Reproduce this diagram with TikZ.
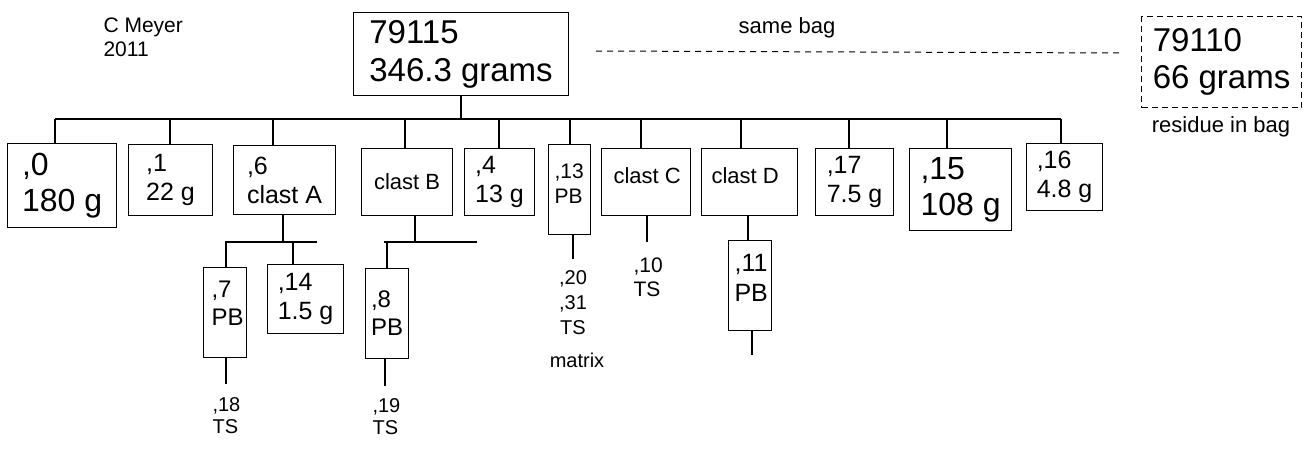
\documentclass[tikz,border=0pt]{standalone}
\usepackage{fontspec}
\setmainfont{Liberation Sans}
\newcommand\fsz[2]{\fontsize{#1}{#2}\selectfont}
\begin{document}
\begin{tikzpicture}[x=1pt,y=-1pt,
  line width=1.1pt,
  box/.style={draw, line width=1.1pt, inner sep=0pt, anchor=north west, align=left},
  dbox/.style={box, dash pattern=on 6pt off 4pt},
  txt/.style={inner sep=0pt, align=left},
  dline/.style={dash pattern=on 6pt off 5pt, line width=1pt}]
\fill[white] (0,0) rectangle (1307,455);
\useasboundingbox (0,0) rectangle (1307,455);

% header texts
\node[txt, anchor=north west, font=\fsz{21}{24}] (author) at (103,17) {C Meyer\\2011};
\node[txt, anchor=base, font=\fsz{22}{25}] (same) at (787,34) {same bag};
\node[txt, anchor=base, font=\fsz{22}{25}] (resid) at (1221,132) {residue in bag};

% main boxes
\node[box, minimum width=215, minimum height=83, font=\fsz{33}{38}] (main) at (353,12) {79115\\346.3 grams};
\node[dbox, minimum width=160, minimum height=91, font=\fsz{33}{37}] (res) at (1141,16) {79110\\66 grams};

% first row
\node[box, minimum width=109, minimum height=84, font=\fsz{32}{36}] (n0) at (7,143) {,0\\180 g};
\node[box, minimum width=84, minimum height=71, font=\fsz{25}{29}] (n1) at (128,144) {,1\\22 g};
\node[box, minimum width=102, minimum height=69, font=\fsz{25}{29}] (n6) at (233,145) {,6\\clast A};
\node[box, minimum width=91, minimum height=67, font=\fsz{22}{25}] (nB) at (361,148) {clast B};
\node[box, minimum width=70, minimum height=67, font=\fsz{25}{29}] (n4) at (464,148) {,4\\13 g};
\node[box, minimum width=42, minimum height=90] (n13) at (548,144) {};
\node[txt, anchor=north west, font=\fsz{21}{25}] (n13t) at (554,163) {,13\\PB};
\node[box, minimum width=89, minimum height=67] (nC) at (601,148) {};
\node[txt, anchor=north west, font=\fsz{22}{25}] (nCt) at (613,167) {clast C};
\node[box, minimum width=96, minimum height=67] (nD) at (701,148) {};
\node[txt, anchor=north west, font=\fsz{22}{25}] (nDt) at (711,167) {clast D};
\node[box, minimum width=78, minimum height=67, font=\fsz{25}{29}] (n17) at (815,148) {,17\\7.5 g};
\node[box, minimum width=102, minimum height=82, font=\fsz{32}{36}] (n15) at (909,148) {,15\\108 g};
\node[box, minimum width=76, minimum height=67, font=\fsz{25}{29}] (n16) at (1026,143) {,16\\4.8 g};

% second level
\node[box, minimum width=43, minimum height=90] (n7) at (203,267) {};
\node[txt, anchor=north west, font=\fsz{24}{28}] (n7t) at (211,280) {,7\\PB};
\node[box, minimum width=76, minimum height=69, font=\fsz{25}{29}] (n14) at (267,264) {,14\\1.5 g};
\node[box, minimum width=43, minimum height=90, font=\fsz{24}{28}] (n8) at (365,268) {,8\\PB};
\node[box, minimum width=43, minimum height=90] (n11) at (728,240) {};
\node[txt, anchor=north west, font=\fsz{25}{30}] (n11t) at (734,254) {,11\\PB};

% text labels below
\node[txt, anchor=north west, font=\fsz{20}{22}] (l18) at (212,397) {,18\\TS};
\node[txt, anchor=north west, font=\fsz{20}{22}] (l19) at (372,398) {,19\\TS};
\node[txt, anchor=north, align=center, font=\fsz{20}{25}] (l20) at (573,270) {,20\\,31\\TS};
\node[txt, anchor=base, font=\fsz{20}{24}] (lmat) at (577,367) {matrix};
\node[txt, anchor=north west, font=\fsz{21}{24}] (l10) at (633,257) {,10\\TS};

% main tree
\coordinate (tm) at (461,119);
\draw (main.south -| tm) -- (tm);
\coordinate (t0) at (55,119);
\coordinate (t1) at (170,119);
\coordinate (t6) at (273,119);
\coordinate (tB) at (405,119);
\coordinate (t4) at (499,119);
\coordinate (t13) at (570,119);
\coordinate (tC) at (641,119);
\coordinate (tD) at (741,119);
\coordinate (t17) at (849,119);
\coordinate (t15) at (947,119);
\coordinate (t16) at (1061,119);
\draw (t0) -- (t16);
\foreach \c/\n in {t0/n0,t1/n1,t6/n6,tB/nB,t4/n4,t13/n13,tC/nC,tD/nD,t17/n17,t15/n15,t16/n16}
  \draw (\c) -- (\c |- \n.north);

% clast A subtree
\coordinate (a0) at (283,242);
\coordinate (a1) at (225,242);
\coordinate (a2) at (317,242);
\coordinate (a7) at (226,242);
\coordinate (a14) at (293,242);
\draw (n6.south -| a0) -- (a0);
\draw (a1) -- (a2);
\draw (a7) -- (a7 |- n7.north);
\draw (a14) -- (a14 |- n14.north);
\coordinate (s7) at (226,384);
\draw (n7.south -| s7) -- (s7);

% clast B subtree
\coordinate (b0) at (415,242);
\coordinate (b1) at (384,242);
\coordinate (b2) at (477,242);
\coordinate (b8) at (387,242);
\draw (nB.south -| b0) -- (b0);
\draw (b1) -- (b2);
\draw (b8) -- (b8 |- n8.north);
\coordinate (s8) at (385,386);
\draw (n8.south -| s8) -- (s8);

% ,13 stem
\coordinate (s13) at (573,259);
\draw (n13.south -| s13) -- (s13);

% clast C stem
\coordinate (sC) at (647,242);
\draw (nC.south -| sC) -- (sC);

% clast D subtree
\coordinate (dD) at (748,240);
\draw (nD.south -| dD) -- (dD |- n11.north);
\coordinate (s11) at (752,355);
\draw (n11.south -| s11) -- (s11);

% same bag dashed connector
\coordinate (g1) at (596,51);
\coordinate (g2) at (1123,53);
\draw[dline] (g1) -- (g2);
\end{tikzpicture}
\end{document}
